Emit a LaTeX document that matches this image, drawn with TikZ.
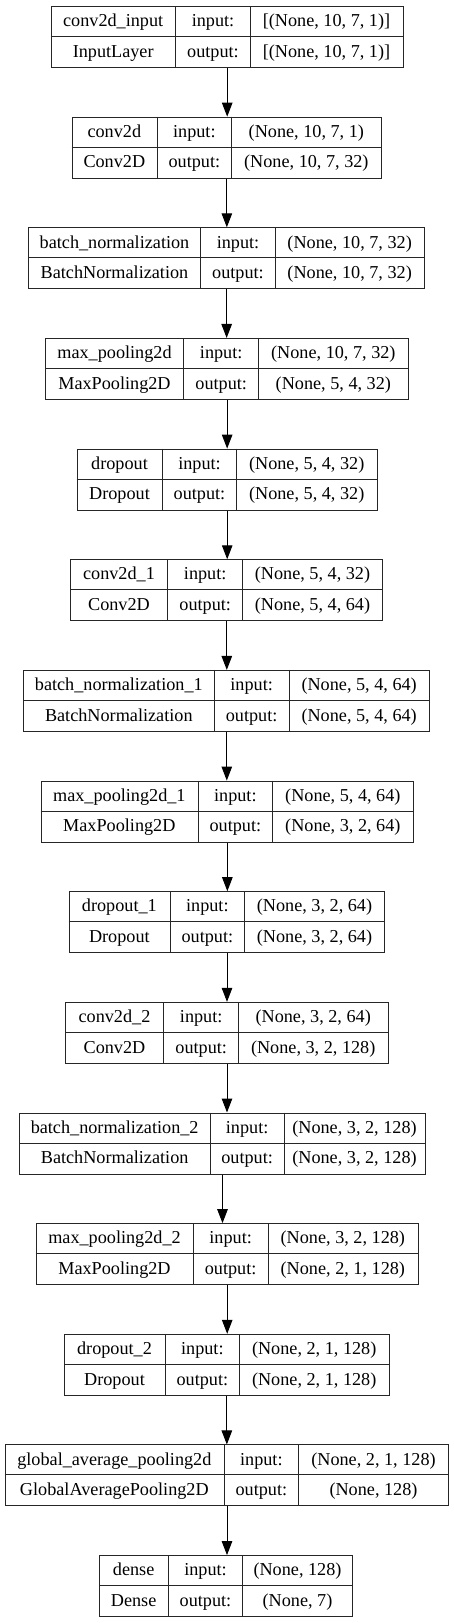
\documentclass[tikz,border=0pt]{standalone}
\usepackage{fontspec}
\setmainfont{Liberation Serif}
\usetikzlibrary{arrows.meta}
\begin{document}
\begin{tikzpicture}[x=1pt,y=-1pt,
  box/.style={draw=black!85, line width=1pt, minimum height=61pt, inner sep=0pt, anchor=north west},
  sep/.style={draw=black!85, line width=1pt},
  lbl/.style={anchor=base, inner sep=0pt, font=\fontsize{18.2}{22}\selectfont},
  conn/.style={-{Triangle[length=14pt,width=10.5pt]}, line width=1pt}]
\useasboundingbox (0,0) rectangle (453,1623);
\foreach \i/\L/\A/\B/\R/\nm/\cl/\inp/\outp in {
0/50.7/175.7/250.3/402.7/conv2d\_input/InputLayer/{[(None, 10, 7, 1)]}/{[(None, 10, 7, 1)]},
1/71.7/157/231.7/381/conv2d/Conv2D/{(None, 10, 7, 1)}/{(None, 10, 7, 32)},
2/28.3/200.7/275.3/424/batch\_normalization/BatchNormalization/{(None, 10, 7, 32)}/{(None, 10, 7, 32)},
3/45.3/183.7/258.7/408/max\_pooling2d/MaxPooling2D/{(None, 10, 7, 32)}/{(None, 5, 4, 32)},
4/76.7/162.3/236.7/376.7/dropout/Dropout/{(None, 5, 4, 32)}/{(None, 5, 4, 32)},
5/70.3/167.7/242.7/382.3/conv2d\_1/Conv2D/{(None, 5, 4, 32)}/{(None, 5, 4, 64)},
6/23.3/214.3/289/429.3/batch\_normalization\_1/BatchNormalization/{(None, 5, 4, 64)}/{(None, 5, 4, 64)},
7/40.7/198/272.7/413/max\_pooling2d\_1/MaxPooling2D/{(None, 5, 4, 64)}/{(None, 3, 2, 64)},
8/68.7/170/244.7/384.3/dropout\_1/Dropout/{(None, 3, 2, 64)}/{(None, 3, 2, 64)},
9/65.3/163.7/238.7/387.7/conv2d\_2/Conv2D/{(None, 3, 2, 64)}/{(None, 3, 2, 128)},
10/19.3/210/284.3/424.7/batch\_normalization\_2/BatchNormalization/{(None, 3, 2, 128)}/{(None, 3, 2, 128)},
11/35.7/193.3/268/417.7/max\_pooling2d\_2/MaxPooling2D/{(None, 3, 2, 128)}/{(None, 2, 1, 128)},
12/64/165/239.7/388.7/dropout\_2/Dropout/{(None, 2, 1, 128)}/{(None, 2, 1, 128)},
13/4.7/224/298.7/448.3/global\_average\_pooling2d/GlobalAveragePooling2D/{(None, 2, 1, 128)}/{(None, 128)},
14/99/168.3/242.7/352.3/dense/Dense/{(None, 128)}/{(None, 7)}
}{
  \pgfmathsetmacro\T{6+\i*110.65}
  \pgfmathsetmacro\W{\R-\L}
  \pgfmathsetmacro\xa{(\L+\A)/2}
  \pgfmathsetmacro\xb{(\A+\B)/2}
  \pgfmathsetmacro\xc{(\B+\R)/2}
  \node[box, minimum width=\W pt] (b\i) at (\L,\T) {};
  \draw[sep] (\L,{\T+30.5}) -- (\R,{\T+30.5});
  \draw[sep] (\A,\T) -- (\A,{\T+61});
  \draw[sep] (\B,\T) -- (\B,{\T+61});
  \node[lbl] (nm\i) at (\xa,{\T+20.7}) {\nm};
  \node[lbl] (cl\i) at (\xa,{\T+51.2}) {\cl};
  \node[lbl] (il\i) at (\xb,{\T+20.7}) {input:};
  \node[lbl] (ol\i) at (\xb,{\T+51.2}) {output:};
  \node[lbl] (iv\i) at (\xc,{\T+20.7}) {\inp};
  \node[lbl] (ov\i) at (\xc,{\T+51.2}) {\outp};
}
\foreach \i [evaluate=\i as \j using int(\i+1)] in {0,...,13}
  \draw[conn] (b\i.south) -- (b\i.south |- b\j.north);
\end{tikzpicture}
\end{document}
